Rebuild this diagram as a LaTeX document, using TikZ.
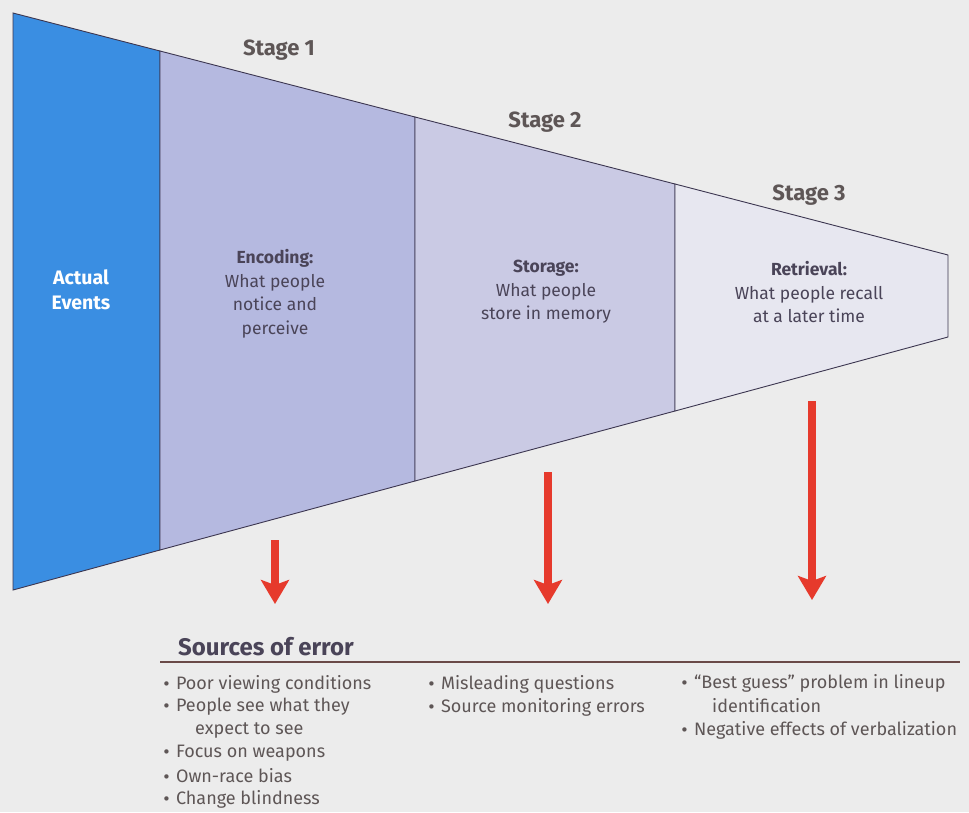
\documentclass[tikz,border=0pt]{standalone}
\usepackage{fontspec}
\setmainfont{Fira Sans}
\newfontfamily\dvfont{DejaVu Sans}
\usetikzlibrary{arrows.meta}
\definecolor{bg}{HTML}{ECECEC}
\definecolor{actual}{HTML}{3A8EE2}
\definecolor{sone}{HTML}{B5B9E0}
\definecolor{stwo}{HTML}{CACAE4}
\definecolor{sthree}{HTML}{E7E7F0}
\definecolor{edge}{HTML}{3C3650}
\definecolor{ink}{HTML}{4A4458}
\definecolor{gray}{HTML}{5E5656}
\definecolor{arrowred}{HTML}{E63A2C}
\definecolor{rule}{HTML}{6A4A48}
\newcommand{\blt}{{\dvfont\fontsize{15}{15}\selectfont •}\hspace{5pt}}
\tikzset{
  panel/.style={draw=edge, line width=0.9pt, line join=miter},
  stagelbl/.style={text=gray, font=\fontsize{22}{24}\selectfont\bfseries, inner sep=0pt},
  inside/.style={text=ink, align=center, font=\fontsize{17.5}{23.5}\selectfont, inner sep=0pt},
  errarrow/.style={draw=arrowred, line width=8pt, -{Stealth[length=24pt,width=28pt,inset=5pt]}},
  bullet/.style={text=gray, anchor=west, font=\fontsize{18}{23}\selectfont, inner sep=0pt},
}
\begin{document}
\begin{tikzpicture}[x=1pt,y=-1pt]
\fill[bg] (0,0) rectangle (969,812);
\useasboundingbox (0,0) rectangle (969,812);
% panels
\filldraw[panel, fill=actual] (13,13) -- (160,51) -- (160,550) -- (13,590) -- cycle;
\filldraw[panel, fill=sone] (160,51) -- (415,117) -- (415,481) -- (160,550) -- cycle;
\filldraw[panel, fill=stwo] (415,117) -- (675,184) -- (675,411) -- (415,481) -- cycle;
\filldraw[panel, fill=sthree] (675,184) -- (948,255) -- (948,337) -- (675,411) -- cycle;
% stage labels
\node[stagelbl] (st1) at (279,50) {Stage 1};
\node[stagelbl] (st2) at (545,122) {Stage 2};
\node[stagelbl] (st3) at (809,195) {Stage 3};
% panel texts
\node[inside, text=white, font=\fontsize{19.5}{25}\selectfont\bfseries] (act) at (81,290) {Actual\\Events};
\node[inside] (enc) at (275,294) {\textbf{Encoding:}\\What people\\notice and\\perceive};
\node[inside] (sto) at (546,292) {\textbf{Storage:}\\What people\\store in memory};
\node[inside] (ret) at (809,292) {\textbf{Retrieval:}\\What people recall\\at a later time};
% arrows
\coordinate (a1s) at (275,540); \coordinate (a1e) at (275,604);
\coordinate (a2s) at (548,472); \coordinate (a2e) at (548,604);
\coordinate (a3s) at (812,401); \coordinate (a3e) at (812,600);
\draw[errarrow] (a1s) -- (a1e);
\draw[errarrow] (a2s) -- (a2e);
\draw[errarrow] (a3s) -- (a3e);
% sources of error
\node[text=ink, anchor=west, font=\fontsize{24}{26}\selectfont\bfseries, inner sep=0pt] (soe) at (178,647) {Sources of error};
\coordinate (rl) at (160,662); \coordinate (rr) at (960,662);
\draw[rule, line width=1.1pt] (rl) -- (rr);
% column 1
\node[bullet] (b11) at (162,684) {\blt Poor viewing conditions};
\node[bullet] (b12) at (162,707) {\blt People see what they};
\node[bullet] (b12b) at (195,730) {expect to see};
\node[bullet] (b13) at (162,753) {\blt Focus on weapons};
\node[bullet] (b14) at (162,776) {\blt Own-race bias};
\node[bullet] (b15) at (162,799) {\blt Change blindness};
% column 2
\node[bullet] (b21) at (427,684) {\blt Misleading questions};
\node[bullet] (b22) at (427,707) {\blt Source monitoring errors};
% column 3
\node[bullet] (b31) at (680,683) {\blt “Best guess” problem in lineup};
\node[bullet] (b31b) at (712,706) {identification};
\node[bullet] (b32) at (680,730) {\blt Negative effects of verbalization};
\end{tikzpicture}
\end{document}
